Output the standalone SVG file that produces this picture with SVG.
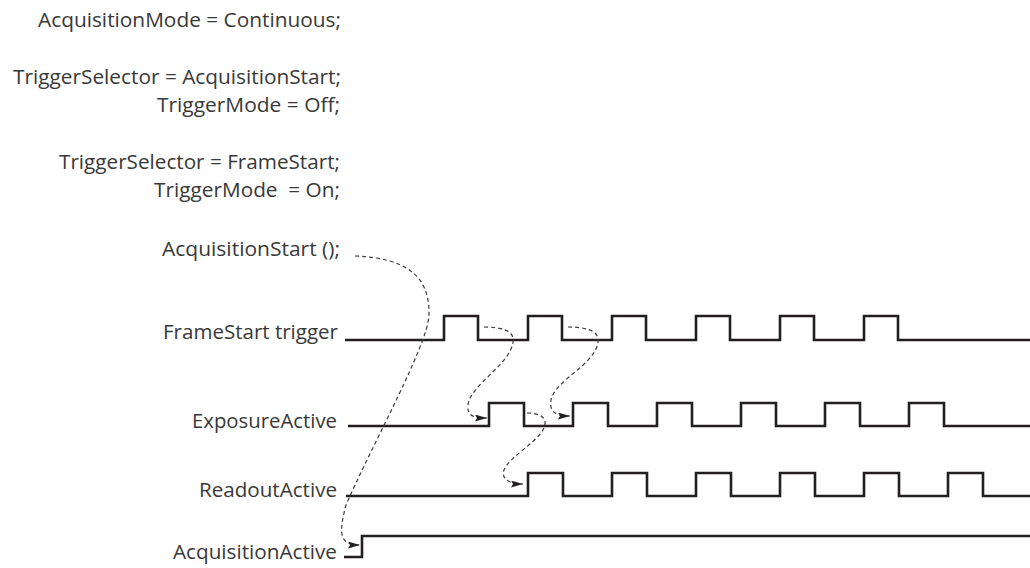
<svg xmlns="http://www.w3.org/2000/svg" width="1030" height="568" viewBox="0 0 1030 568">
<style>
text{font-family:"Open Sans","Noto Sans","Liberation Sans",sans-serif;font-size:20px;fill:#383838;text-anchor:end;white-space:pre}
.wave{fill:none;stroke:#231f20;stroke-width:2.6;stroke-linejoin:miter;stroke-linecap:butt}
.dash{fill:none;stroke:#3a3a3a;stroke-width:1.2;stroke-dasharray:4 3}
</style>
<defs>
<marker id="arr" markerUnits="userSpaceOnUse" markerWidth="14" markerHeight="10" refX="12" refY="3.5" orient="auto">
<path d="M0,0 L12,3.5 L0,7 L2,3.5 Z" fill="#231f20"/>
</marker>
</defs>
<rect width="1030" height="568" fill="#ffffff"/>
<g id="code">
<text x="341" y="26.5" textLength="303" lengthAdjust="spacingAndGlyphs">AcquisitionMode = Continuous;</text>
<text x="341" y="83.5" textLength="328" lengthAdjust="spacingAndGlyphs">TriggerSelector = AcquisitionStart;</text>
<text x="340" y="112" textLength="183" lengthAdjust="spacingAndGlyphs">TriggerMode = Off;</text>
<text x="340" y="169" textLength="281" lengthAdjust="spacingAndGlyphs">TriggerSelector = FrameStart;</text>
<text x="340" y="197" textLength="186" lengthAdjust="spacingAndGlyphs">TriggerMode  = On;</text>
</g>
<g id="acqstart">
<text x="340" y="255.5" textLength="178" lengthAdjust="spacingAndGlyphs">AcquisitionStart ();</text>
</g>
<g id="framestart">
<text x="338" y="338.5" textLength="175" lengthAdjust="spacingAndGlyphs">FrameStart trigger</text>
<path class="wave" d="M345,340 H444 V316 H478 V340 H528 V316 H562 V340 H612 V316 H646 V340 H696 V316 H730 V340 H780 V316 H814 V340 H864 V316 H898 V340 H1030"/>
</g>
<g id="exposure">
<text x="337" y="428" textLength="145" lengthAdjust="spacingAndGlyphs">ExposureActive</text>
<path class="wave" d="M348,426 H489 V403 H524 V426 H573 V403 H608 V426 H657 V403 H692 V426 H741 V403 H776 V426 H825 V403 H860 V426 H909 V403 H944 V426 H1030"/>
</g>
<g id="readout">
<text x="337" y="497" textLength="138" lengthAdjust="spacingAndGlyphs">ReadoutActive</text>
<path class="wave" d="M346,496 H528 V473 H563 V496 H612 V473 H647 V496 H696 V473 H731 V496 H780 V473 H815 V496 H864 V473 H899 V496 H948 V473 H983 V496 H1030"/>
</g>
<g id="acqactive">
<text x="337" y="559" textLength="164" lengthAdjust="spacingAndGlyphs">AcquisitionActive</text>
<path class="wave" d="M344,557 H362 V536 H1030"/>
</g>
<g id="connectors">
<path class="dash" marker-end="url(#arr)" d="M355,256 C405,258 430,275 429,315 C428,345 372,445 346,505 C338,535 340,545 360,545"/>
<path class="dash" marker-end="url(#arr)" d="M484,327 C500,327 515,330 513,342 C510,365 470,385 468,405 C467,415 472,418 487,418"/>
<path class="dash" marker-end="url(#arr)" d="M527,413 C537,413 546,416 545,424 C543,440 510,455 504,470 C501,478 508,484 523,484"/>
<path class="dash" marker-end="url(#arr)" d="M568,327 C584,327 600,330 598,342 C595,365 555,380 551,400 C549,412 556,416 570,416"/>
</g>
</svg>
